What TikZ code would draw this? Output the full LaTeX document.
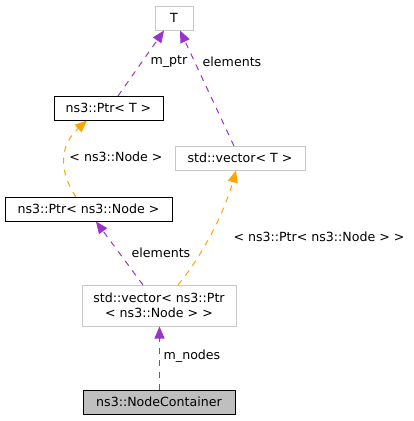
\documentclass[tikz,border=0pt]{standalone}
\usepackage{fontspec}
\setmainfont{DejaVu Sans}
\usetikzlibrary{arrows.meta}
\definecolor{purp}{HTML}{9A32CD}
\definecolor{orng}{HTML}{FFA500}
\definecolor{gborder}{HTML}{BFBFBF}
\definecolor{lborder}{HTML}{C8C8C8}
\tikzset{
  txt/.style={font=\fontsize{12.6}{14.5}\selectfont},
  cls/.style={txt, draw=black, line width=1pt, rectangle, inner sep=0pt, align=center},
  ext/.style={txt, draw=lborder, line width=1pt, rectangle, inner sep=0pt, align=center},
  lbl/.style={txt, inner sep=1pt},
  rel/.style={color=purp, line width=1pt, dash pattern=on 6pt off 6pt, -{Triangle[length=12pt,width=10pt]}},
  tmpl/.style={color=orng, line width=1pt, dash pattern=on 6pt off 6pt, -{Triangle[length=12pt,width=10pt]}},
}
\begin{document}
\begin{tikzpicture}[x=1pt,y=-1pt]
\useasboundingbox (0,0) rectangle (413,421);
\node[ext, minimum width=38pt, minimum height=24pt] (T) at (174,18) {T};
\node[cls, minimum width=109pt, minimum height=24pt] (PtrT) at (108.5,108) {ns3::Ptr< T >};
\node[ext, minimum width=130pt, minimum height=24pt] (VecT) at (240,158) {std::vector< T >};
\node[cls, minimum width=167pt, minimum height=24pt] (PtrN) at (88.5,209) {ns3::Ptr< ns3::Node >};
\node[ext, minimum width=154pt, minimum height=41pt] (VecN) at (159,305.5) {std::vector< ns3::Ptr\\< ns3::Node > >};
\node[cls, fill=gborder, minimum width=152pt, minimum height=24pt] (NC) at (159,402) {ns3::NodeContainer};

\coordinate (a1) at (118,96);
\coordinate (a2) at (234,146);
\coordinate (a3) at (76,197);
\coordinate (a4) at (143,285);
\coordinate (a5) at (178,285);

\draw[rel] (a1) -- (T.south -| 164,0) ;
\draw[rel] (a2) -- (T.south -| 180,0);
\draw[tmpl] (a3) .. controls (58,170) and (60,145) .. (PtrT.south -| 87,0);
\draw[rel] (a4) -- (PtrN.south -| 96,0);
\draw[tmpl] (a5) .. controls (205,252) and (225,210) .. (VecT.south -| 236,0);
\draw[rel] ([xshift=0.5pt]NC.north) -- ([xshift=0.5pt]VecN.south);

\node[lbl] (l1) at (169,62) {m\_ptr};
\node[lbl] (l2) at (232,62) {elements};
\node[lbl] (l3) at (116,157) {< ns3::Node >};
\node[lbl] (l4) at (161,253) {elements};
\node[lbl] (l5) at (319,237) {< ns3::Ptr< ns3::Node > >};
\node[lbl] (l6) at (192,356) {m\_nodes};
\end{tikzpicture}
\end{document}
